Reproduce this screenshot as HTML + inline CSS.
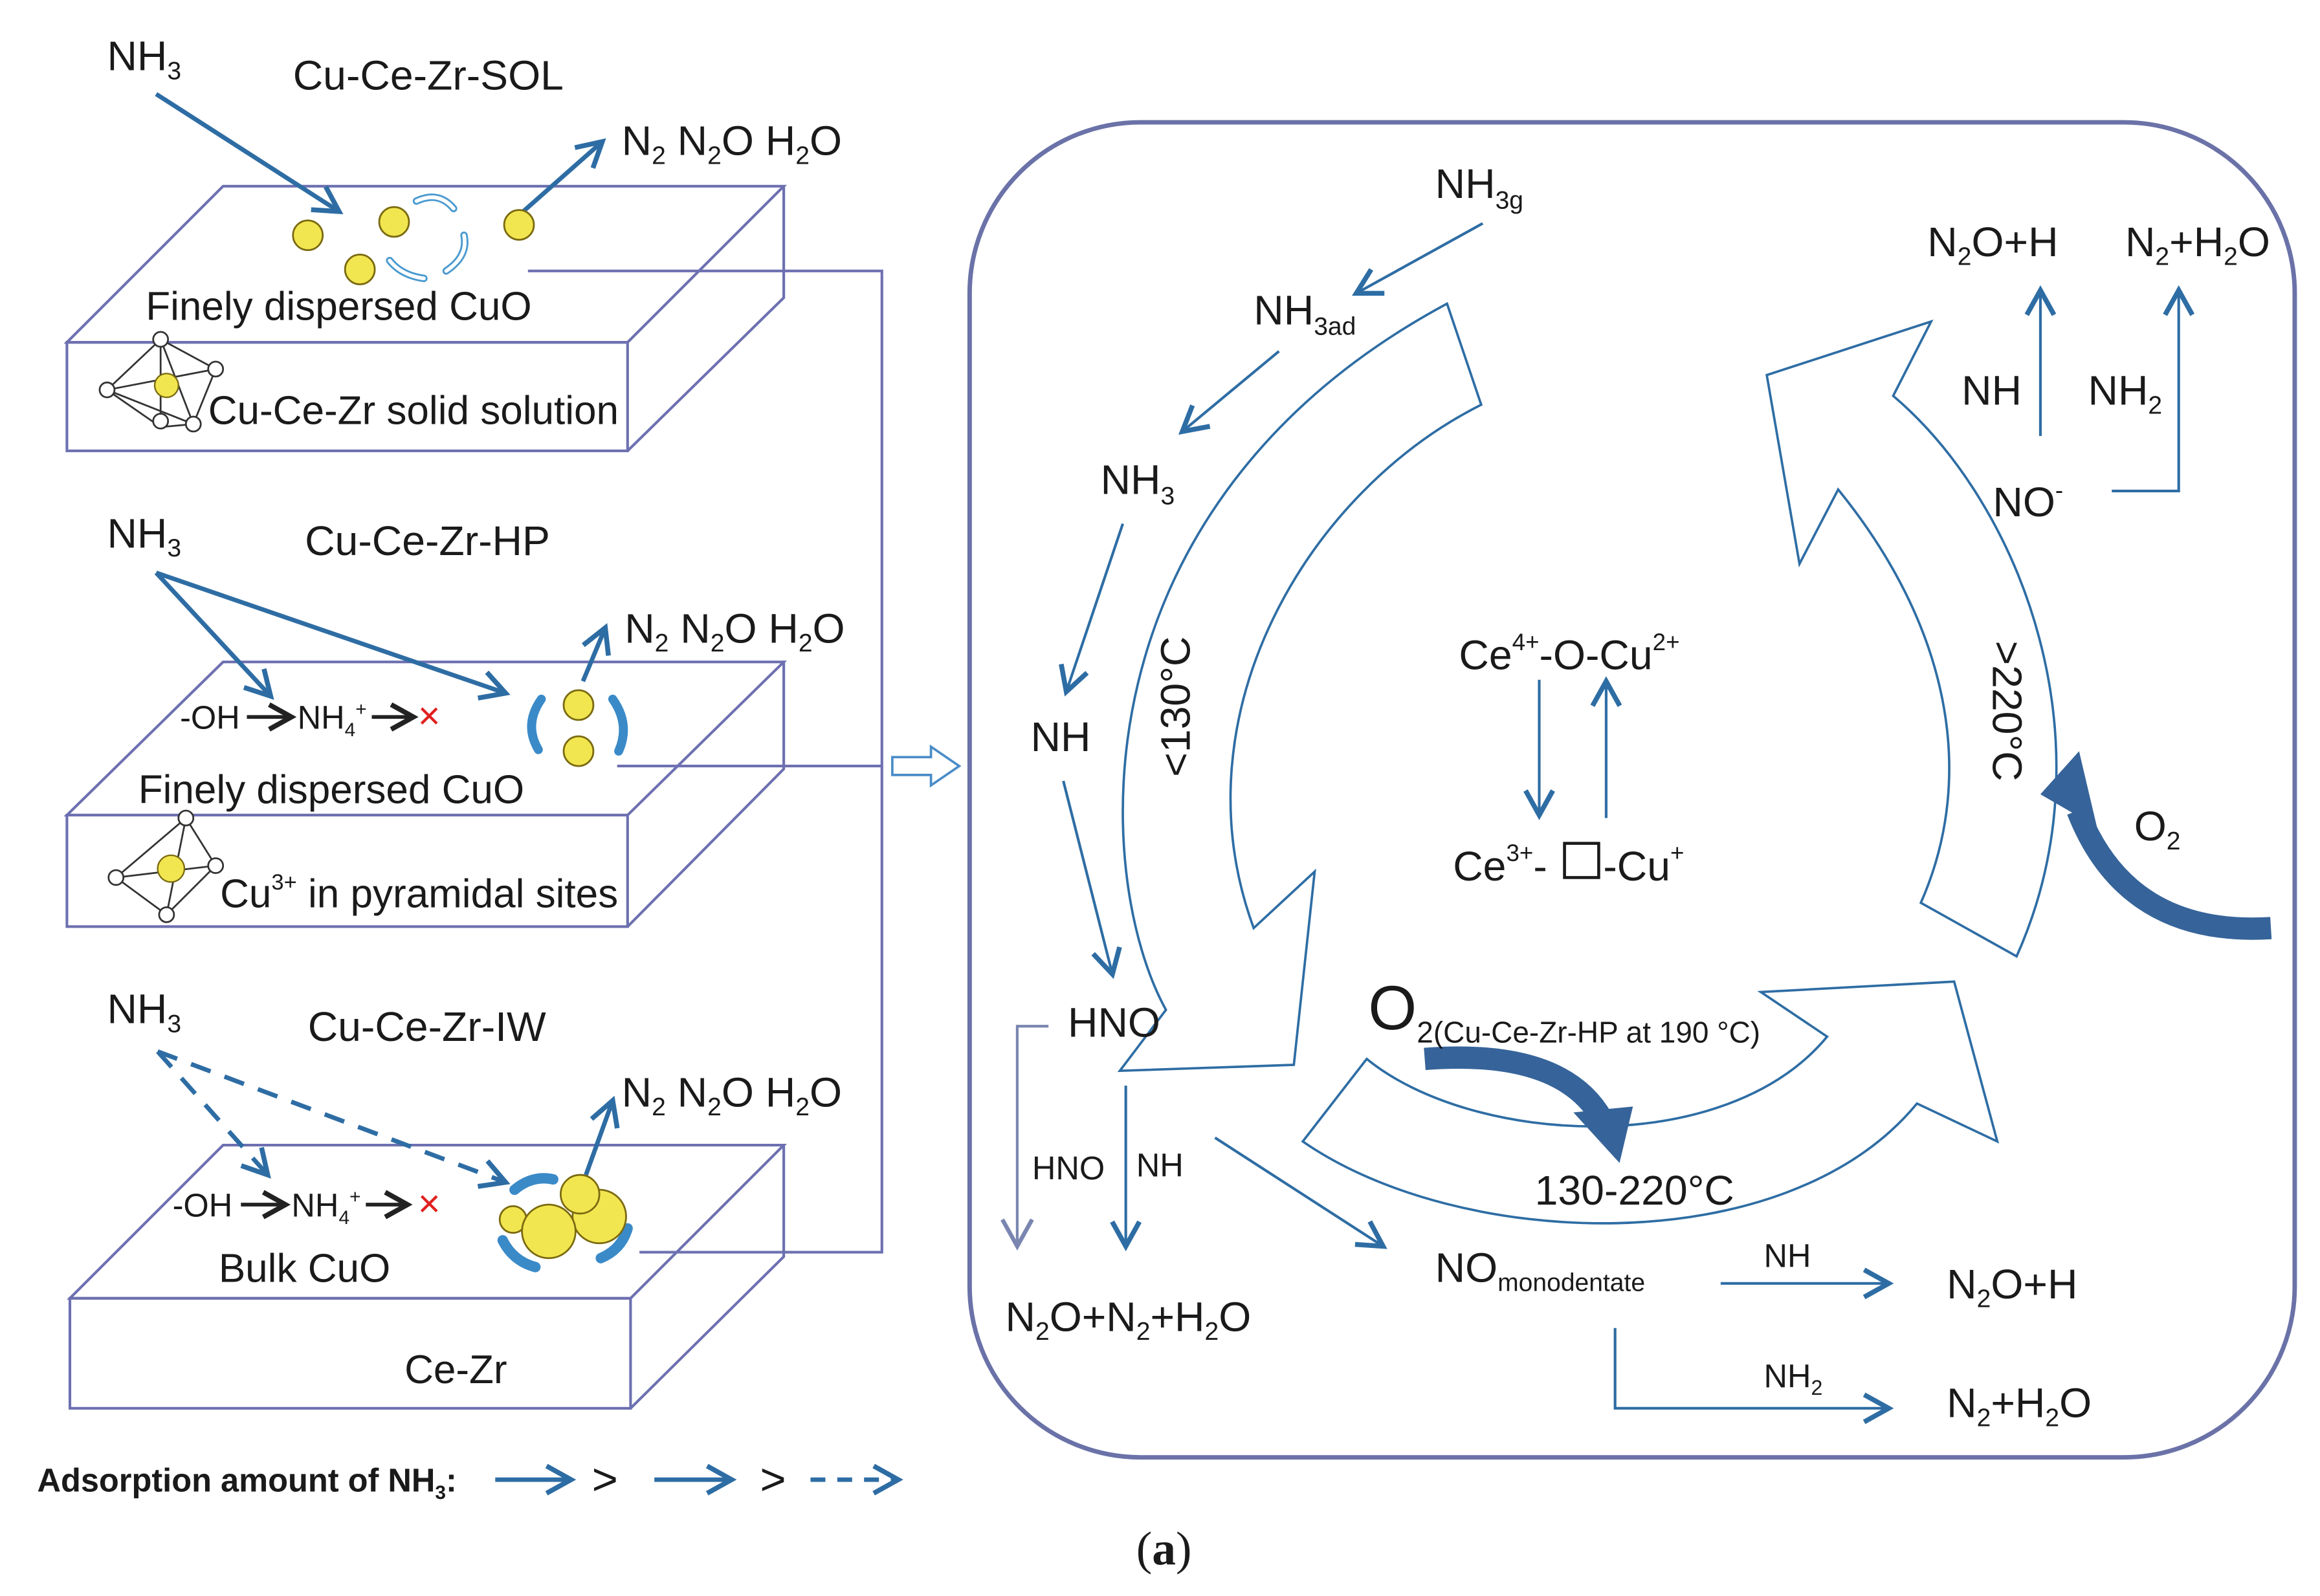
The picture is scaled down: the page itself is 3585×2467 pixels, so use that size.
<!DOCTYPE html>
<html><head><meta charset="utf-8">
<style>
html,body{margin:0;padding:0;background:#fff;}
svg{display:block;}
text{font-family:"Liberation Sans",sans-serif;fill:#1a1a1a;}
</style></head>
<body>
<svg width="3585" height="2467" viewBox="0 0 1560 1073" xmlns="http://www.w3.org/2000/svg">
<defs>
<marker id="ahb" viewBox="0 0 12 12" refX="10" refY="6" markerWidth="22" markerHeight="22" markerUnits="userSpaceOnUse" orient="auto">
<path d="M1,1 L10,6 L1,11" fill="none" stroke="#2e6da4" stroke-width="1.8"/></marker>
<marker id="ahk" viewBox="0 0 12 12" refX="10" refY="6" markerWidth="20" markerHeight="20" markerUnits="userSpaceOnUse" orient="auto">
<path d="M1,1 L10,6 L1,11" fill="none" stroke="#222" stroke-width="2"/></marker>
<marker id="ahg" viewBox="0 0 12 12" refX="10" refY="6" markerWidth="24" markerHeight="24" markerUnits="userSpaceOnUse" orient="auto">
<path d="M1,1 L10,6 L1,11" fill="none" stroke="#7a86b0" stroke-width="1.4"/></marker>
</defs>

<!-- ===== LEFT PANEL ===== -->
<g fill="none" stroke="#6d70b0" stroke-width="1.8">
<path d="M45,230 L150,125 L527,125 L422,230 Z"/>
<rect x="45" y="230" width="377" height="73"/>
<path d="M422,303 L527,200 L527,125"/>
<path d="M45,548 L150,445 L527,445 L422,548 Z"/>
<rect x="45" y="548" width="377" height="75"/>
<path d="M422,623 L527,517 L527,445"/>
<path d="M47,873 L150,770 L527,770 L424,873 Z"/>
<rect x="47" y="873" width="377" height="74"/>
<path d="M424,947 L527,845 L527,770"/>
<path d="M355,182 L593,182 L593,842 L430,842 M415,515 L593,515"/>
</g>
<path d="M600,509 L626,509 L626,502 L645,515 L626,528 L626,521 L600,521 Z" fill="#fff" stroke="#4a8cc8" stroke-width="1.6"/>

<!-- SOL -->
<text x="72" y="47" font-size="28">NH<tspan font-size="17" dy="6">3</tspan></text>
<text x="197" y="60" font-size="28">Cu-Ce-Zr-SOL</text>
<text x="418" y="104" font-size="28">N<tspan font-size="17" dy="6">2</tspan><tspan dy="-6"> N</tspan><tspan font-size="17" dy="6">2</tspan><tspan dy="-6">O H</tspan><tspan font-size="17" dy="6">2</tspan><tspan dy="-6">O</tspan></text>
<line x1="105" y1="63" x2="228" y2="142" stroke="#2e6da4" stroke-width="3" marker-end="url(#ahb)"/>
<line x1="345" y1="148" x2="405" y2="95" stroke="#2e6da4" stroke-width="3" marker-end="url(#ahb)"/>
<g fill="#f2e650" stroke="#7a6a10" stroke-width="1.2">
<circle cx="207" cy="158" r="10"/><circle cx="265" cy="149" r="10"/><circle cx="242" cy="181" r="10"/><circle cx="349" cy="151" r="10"/>
</g>
<g fill="none" stroke="#4a9ad0" stroke-width="5" stroke-linecap="round">
<path d="M280,135 Q295,128 305,140" /><path d="M312,158 Q315,172 300,182"/><path d="M285,187 Q270,185 262,175"/>
</g>
<g fill="none" stroke="#fff" stroke-width="2.5" stroke-linecap="round">
<path d="M280,135 Q295,128 305,140" /><path d="M312,158 Q315,172 300,182"/><path d="M285,187 Q270,185 262,175"/>
</g>
<text x="98" y="215" font-size="27">Finely dispersed CuO</text>
<text x="140" y="285" font-size="27">Cu-Ce-Zr solid solution</text>
<g fill="none" stroke="#333" stroke-width="1.2">
<path d="M72,262 L108,228 L145,248 L130,285 L108,287 Z M72,262 L145,248 M108,228 L130,285 M108,228 L108,287 M72,262 L130,285"/>
<circle cx="72" cy="262" r="5" fill="#fff"/><circle cx="108" cy="228" r="5" fill="#fff"/><circle cx="145" cy="248" r="5" fill="#fff"/><circle cx="130" cy="285" r="5" fill="#fff"/><circle cx="108" cy="283" r="5" fill="#fff"/>
</g>
<circle cx="112" cy="259" r="8" fill="#f2e650" stroke="#7a6a10"/>

<!-- HP -->
<text x="72" y="368" font-size="28">NH<tspan font-size="17" dy="6">3</tspan></text>
<text x="205" y="373" font-size="28">Cu-Ce-Zr-HP</text>
<text x="420" y="432" font-size="28">N<tspan font-size="17" dy="6">2</tspan><tspan dy="-6"> N</tspan><tspan font-size="17" dy="6">2</tspan><tspan dy="-6">O H</tspan><tspan font-size="17" dy="6">2</tspan><tspan dy="-6">O</tspan></text>
<line x1="105" y1="385" x2="182" y2="468" stroke="#2e6da4" stroke-width="3" marker-end="url(#ahb)"/>
<line x1="105" y1="385" x2="340" y2="466" stroke="#2e6da4" stroke-width="3" marker-end="url(#ahb)"/>
<line x1="392" y1="458" x2="407" y2="422" stroke="#2e6da4" stroke-width="3" marker-end="url(#ahb)"/>
<text x="121" y="490" font-size="22">-OH</text>
<line x1="166" y1="482" x2="196" y2="482" stroke="#222" stroke-width="2.5" marker-end="url(#ahk)"/>
<text x="200" y="490" font-size="22">NH<tspan font-size="13" dy="5">4</tspan><tspan font-size="13" dy="-14">+</tspan></text>
<line x1="250" y1="482" x2="278" y2="482" stroke="#222" stroke-width="2.5" marker-end="url(#ahk)"/>
<text x="281" y="490" font-size="26" style="fill:#e02020">×</text>
<g fill="#f2e650" stroke="#7a6a10" stroke-width="1.2"><circle cx="389" cy="474" r="10"/><circle cx="389" cy="505" r="10"/></g>
<g fill="none" stroke="#3a8ac8" stroke-width="6" stroke-linecap="round">
<path d="M364,470 Q352,487 362,504"/><path d="M412,470 Q424,487 416,505"/>
</g>
<text x="93" y="540" font-size="27">Finely dispersed CuO</text>
<text x="148" y="610" font-size="27">Cu<tspan font-size="15" dy="-12">3+</tspan><tspan dy="12"> in pyramidal sites</tspan></text>
<g fill="none" stroke="#333" stroke-width="1.2">
<path d="M78,590 L125,550 L145,582 L112,615 Z M125,550 L112,615 M78,590 L145,582"/>
<circle cx="78" cy="590" r="5" fill="#fff"/><circle cx="125" cy="550" r="5" fill="#fff"/><circle cx="145" cy="582" r="5" fill="#fff"/><circle cx="112" cy="615" r="5" fill="#fff"/>
</g>
<circle cx="115" cy="584" r="9" fill="#f2e650" stroke="#7a6a10"/>

<!-- IW -->
<text x="72" y="688" font-size="28">NH<tspan font-size="17" dy="6">3</tspan></text>
<text x="207" y="700" font-size="28">Cu-Ce-Zr-IW</text>
<text x="418" y="744" font-size="28">N<tspan font-size="17" dy="6">2</tspan><tspan dy="-6"> N</tspan><tspan font-size="17" dy="6">2</tspan><tspan dy="-6">O H</tspan><tspan font-size="17" dy="6">2</tspan><tspan dy="-6">O</tspan></text>
<line x1="106" y1="707" x2="180" y2="790" stroke="#2e6da4" stroke-width="3" stroke-dasharray="14,10" marker-end="url(#ahb)"/>
<line x1="106" y1="707" x2="340" y2="795" stroke="#2e6da4" stroke-width="3" stroke-dasharray="14,10" marker-end="url(#ahb)"/>
<line x1="394" y1="790" x2="412" y2="740" stroke="#2e6da4" stroke-width="3" marker-end="url(#ahb)"/>
<text x="116" y="818" font-size="22">-OH</text>
<line x1="162" y1="810" x2="192" y2="810" stroke="#222" stroke-width="2.5" marker-end="url(#ahk)"/>
<text x="196" y="818" font-size="22">NH<tspan font-size="13" dy="5">4</tspan><tspan font-size="13" dy="-14">+</tspan></text>
<line x1="246" y1="810" x2="274" y2="810" stroke="#222" stroke-width="2.5" marker-end="url(#ahk)"/>
<text x="281" y="818" font-size="26" style="fill:#e02020">×</text>
<g fill="none" stroke="#3a8ac8" stroke-width="7" stroke-linecap="round">
<path d="M346,800 Q358,790 372,793"/><path d="M338,834 Q345,848 360,852"/><path d="M404,846 Q418,840 422,826"/>
</g>
<g fill="#f2e650" stroke="#7a6a10" stroke-width="1.2">
<circle cx="345" cy="820" r="9"/><circle cx="403" cy="818" r="18"/><circle cx="369" cy="828" r="18"/><circle cx="390" cy="803" r="13"/>
</g>
<text x="147" y="862" font-size="27">Bulk CuO</text>
<text x="272" y="930" font-size="27">Ce-Zr</text>

<!-- legend -->
<text x="25" y="1003" font-size="22" font-weight="bold">Adsorption amount of NH<tspan font-size="13" dy="5">3</tspan><tspan dy="-5">:</tspan></text>
<line x1="333" y1="995" x2="384" y2="995" stroke="#2e6da4" stroke-width="3" marker-end="url(#ahb)"/>
<text x="398" y="1005" font-size="30">&gt;</text>
<line x1="440" y1="995" x2="492" y2="995" stroke="#2e6da4" stroke-width="3" marker-end="url(#ahb)"/>
<text x="511" y="1005" font-size="30">&gt;</text>
<line x1="545" y1="995" x2="604" y2="995" stroke="#2e6da4" stroke-width="3" stroke-dasharray="10,8" marker-end="url(#ahb)"/>
<text x="764" y="1052" font-size="32" style="font-family:'Liberation Serif',serif">(<tspan font-weight="bold">a</tspan>)</text>

<!-- ===== RIGHT PANEL ===== -->
<rect x="652" y="82" width="891" height="898" rx="115" ry="115" fill="none" stroke="#6a72a8" stroke-width="3"/>

<g fill="#fff" stroke="#2e6da4" stroke-width="1.6" stroke-linejoin="miter">
<path d="M973,204 L996,272 C880,330 790,480 843,624 L884,586 L870,716 L753,720 L784,679 C735,590 720,340 973,204 Z"/>
<path d="M1291.6,607 C1330,520 1310,420 1236,329 L1210,379 L1188,252 L1298.5,216 L1273,266 C1360,340 1420,500 1356,643 Z"/>
<path d="M919,712 C990,770 1160,780 1228.6,697 L1184,667 L1314,660 L1343,767.5 L1289,742 C1200,850 980,840 876,767.5 Z"/>
</g>

<path d="M1527,624 Q1430,630 1397,545" fill="none" stroke="#36649a" stroke-width="15"/>
<path d="M1372,534 L1398,505 L1410,556 Z" fill="#36649a"/>
<path d="M958,712 Q1050,705 1077,752" fill="none" stroke="#36649a" stroke-width="15"/>
<path d="M1058,748 L1098,744 L1089,782 Z" fill="#36649a"/>

<g stroke="#2e6da4" stroke-width="1.8" fill="none">
<line x1="997" y1="150" x2="912" y2="197" marker-end="url(#ahb)"/>
<line x1="860" y1="236" x2="795" y2="290" marker-end="url(#ahb)"/>
<line x1="755" y1="352" x2="717" y2="465" marker-end="url(#ahb)"/>
<line x1="715" y1="525" x2="748" y2="655" marker-end="url(#ahb)"/>
<line x1="757" y1="730" x2="757" y2="838" marker-end="url(#ahb)"/>
<line x1="817" y1="765" x2="930" y2="838" marker-end="url(#ahb)"/>
<line x1="1157" y1="863" x2="1270" y2="863" marker-end="url(#ahb)"/>
<path d="M1086,893 L1086,947 L1270,947" marker-end="url(#ahb)"/>
<line x1="1035" y1="457" x2="1035" y2="548" marker-end="url(#ahb)"/>
<line x1="1080" y1="550" x2="1080" y2="458" marker-end="url(#ahb)"/>
<line x1="1372" y1="293" x2="1372" y2="195" marker-end="url(#ahb)"/>
<path d="M1420,330 L1465,330 L1465,195" marker-end="url(#ahb)"/>
</g>
<path d="M705,690 L684,690 L684,838" stroke="#7a86b0" stroke-width="1.8" fill="none" marker-end="url(#ahg)"/>

<text x="965" y="133" font-size="28">NH<tspan font-size="17" dy="7">3g</tspan></text>
<text x="843" y="218" font-size="28">NH<tspan font-size="17" dy="7">3ad</tspan></text>
<text x="740" y="332" font-size="28">NH<tspan font-size="17" dy="7">3</tspan></text>
<text x="693" y="505" font-size="28">NH</text>
<text transform="translate(800,475) rotate(-90)" text-anchor="middle" font-size="28">&lt;130°C</text>
<text x="718" y="697" font-size="28">HNO</text>
<text x="694" y="793" font-size="22">HNO</text>
<text x="764" y="791" font-size="22">NH</text>
<text x="676" y="895" font-size="28">N<tspan font-size="17" dy="6">2</tspan><tspan dy="-6">O+N</tspan><tspan font-size="17" dy="6">2</tspan><tspan dy="-6">+H</tspan><tspan font-size="17" dy="6">2</tspan><tspan dy="-6">O</tspan></text>
<text x="981" y="450" font-size="28">Ce<tspan font-size="16" dy="-13">4+</tspan><tspan dy="13">-O-Cu</tspan><tspan font-size="16" dy="-13">2+</tspan></text>
<text x="977" y="592" font-size="28">Ce<tspan font-size="16" dy="-13">3+</tspan><tspan dy="13">-</tspan></text>
<rect x="1052" y="567" width="23" height="23" fill="none" stroke="#1a1a1a" stroke-width="2"/>
<text x="1078" y="592" font-size="28">-Cu<tspan font-size="16" dy="-13">+</tspan></text>
<text x="920" y="692" font-size="42">O<tspan font-size="20" dy="9">2(Cu-Ce-Zr-HP at 190 °C)</tspan></text>
<text x="1032" y="810" font-size="28">130-220°C</text>
<text x="965" y="862" font-size="28">NO<tspan font-size="17" dy="6">monodentate</tspan></text>
<text x="1186" y="852" font-size="22">NH</text>
<text x="1309" y="873" font-size="28">N<tspan font-size="17" dy="6">2</tspan><tspan dy="-6">O+H</tspan></text>
<text x="1186" y="933" font-size="22">NH<tspan font-size="14" dy="5">2</tspan></text>
<text x="1309" y="953" font-size="28">N<tspan font-size="17" dy="6">2</tspan><tspan dy="-6">+H</tspan><tspan font-size="17" dy="6">2</tspan><tspan dy="-6">O</tspan></text>
<text x="1296" y="172" font-size="28">N<tspan font-size="17" dy="6">2</tspan><tspan dy="-6">O+H</tspan></text>
<text x="1429" y="172" font-size="28">N<tspan font-size="17" dy="6">2</tspan><tspan dy="-6">+H</tspan><tspan font-size="17" dy="6">2</tspan><tspan dy="-6">O</tspan></text>
<text x="1319" y="272" font-size="28">NH</text>
<text x="1404" y="272" font-size="28">NH<tspan font-size="17" dy="6">2</tspan></text>
<text x="1340" y="347" font-size="28">NO<tspan font-size="16" dy="-12">-</tspan></text>
<text transform="translate(1340,478) rotate(90)" text-anchor="middle" font-size="28">&gt;220°C</text>
<text x="1435" y="565" font-size="28">O<tspan font-size="17" dy="6">2</tspan></text>
</svg>
</body></html>
